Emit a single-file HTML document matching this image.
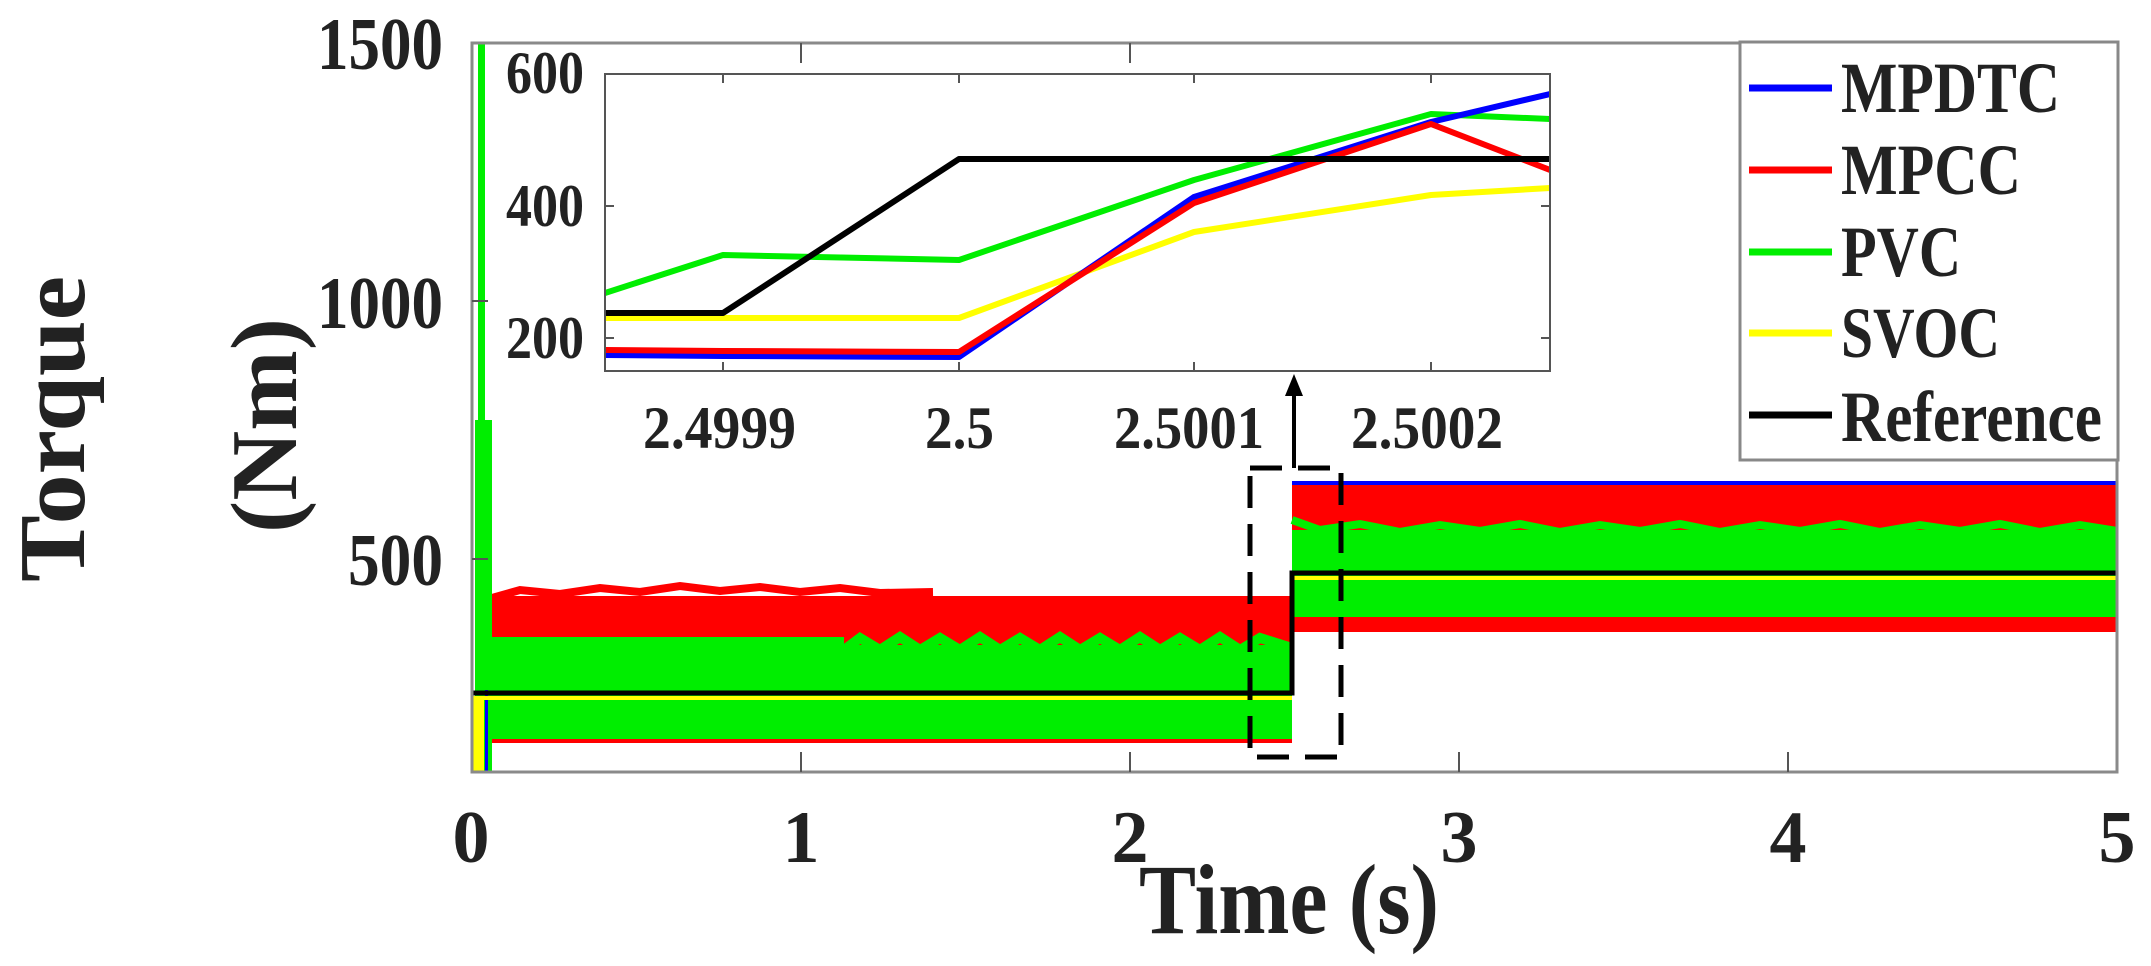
<!DOCTYPE html>
<html><head><meta charset="utf-8"><style>
html,body{margin:0;padding:0;background:#fff;}
svg{display:block;}
text{font-family:"Liberation Serif",serif;font-weight:bold;fill:#222;}
</style></head><body>
<svg width="2151" height="966" viewBox="0 0 2151 966" xmlns="http://www.w3.org/2000/svg">
<rect width="2151" height="966" fill="#fff"/>
<!-- main plot data -->
<!-- pre-step -->
<rect x="492" y="596" width="800" height="147" fill="#ff0000"/>
<polyline points="492,598 520,590 560,594 600,588 640,592 680,586 720,591 760,587 800,592 840,588 880,593 933,592" fill="none" stroke="#ff0000" stroke-width="8"/>
<rect x="492" y="637" width="352" height="102" fill="#00ee00"/>
<rect x="844" y="645" width="448" height="94" fill="#00ee00"/>
<polyline points="844,650 860,638 880,650 900,637 920,650 940,638 960,650 980,637 1000,650 1020,638 1040,650 1060,637 1080,650 1100,638 1120,650 1140,637 1160,650 1180,638 1200,650 1220,637 1240,650 1260,638 1292,648" fill="none" stroke="#00ee00" stroke-width="10"/>
<!-- start transient -->
<rect x="475" y="420" width="17" height="352" fill="#00ee00"/>
<rect x="478" y="43" width="7" height="380" fill="#00ee00"/>
<rect x="472" y="700" width="12" height="72" fill="#ffff00"/>
<rect x="485" y="690" width="3" height="82" fill="#0000ff"/>
<!-- post-step -->
<rect x="1292" y="481" width="825" height="4" fill="#0000ff"/>
<rect x="1292" y="485" width="825" height="147" fill="#ff0000"/>
<rect x="1292" y="530" width="825" height="87" fill="#00ee00"/>
<polyline points="1292,520 1320,530 1360,524 1400,532 1440,525 1480,531 1520,524 1560,532 1600,525 1640,531 1680,524 1720,532 1760,525 1800,531 1840,524 1880,532 1920,525 1960,531 2000,524 2040,532 2080,525 2117,531" fill="none" stroke="#00ee00" stroke-width="8"/>
<!-- reference & svoc -->
<polyline points="472,698 1292,698" stroke="#ffff00" stroke-width="4" fill="none"/>
<polyline points="1292,578 2117,578" stroke="#ffff00" stroke-width="4" fill="none"/>
<polyline points="472,693 1292,693 1292,573 2117,573" stroke="#000" stroke-width="5" fill="none"/>
<!-- dashed zoom rect -->
<rect x="1250" y="468" width="91" height="289" fill="none" stroke="#000" stroke-width="5" stroke-dasharray="32 16"/>
<line x1="1294" y1="468" x2="1294" y2="392" stroke="#000" stroke-width="4"/>
<polygon points="1294,374 1285,396 1303,396" fill="#000"/>
<!-- main axes -->
<rect x="472" y="43" width="1645" height="729" fill="none" stroke="#8a8a8a" stroke-width="3"/>
<g stroke="#555" stroke-width="2">
<line x1="801" y1="772" x2="801" y2="752"/><line x1="1130" y1="772" x2="1130" y2="752"/><line x1="1459" y1="772" x2="1459" y2="752"/><line x1="1788" y1="772" x2="1788" y2="752"/>
<line x1="801" y1="43" x2="801" y2="63"/><line x1="1130" y1="43" x2="1130" y2="63"/>
<line x1="472" y1="559" x2="488" y2="559"/><line x1="472" y1="301" x2="488" y2="301"/>
</g>
<!-- main tick labels -->
<g font-size="74">
<text x="443" y="69" text-anchor="end" textLength="126" lengthAdjust="spacingAndGlyphs">1500</text>
<text x="443" y="328" text-anchor="end" textLength="126" lengthAdjust="spacingAndGlyphs">1000</text>
<text x="443" y="585" text-anchor="end" textLength="95" lengthAdjust="spacingAndGlyphs">500</text>
</g>
<g font-size="74" text-anchor="middle">
<text x="471" y="862">0</text>
<text x="801" y="862">1</text>
<text x="1130" y="862">2</text>
<text x="1459" y="862">3</text>
<text x="1788" y="862">4</text>
<text x="2117" y="862">5</text>
</g>
<text x="1139" y="933" font-size="100" textLength="300" lengthAdjust="spacingAndGlyphs">Time (s)</text>
<text transform="translate(84,582) rotate(-90)" font-size="94" textLength="306" lengthAdjust="spacingAndGlyphs">Torque</text>
<text transform="translate(296,533) rotate(-90)" font-size="94" textLength="215" lengthAdjust="spacingAndGlyphs">(Nm)</text>
<!-- inset -->
<rect x="605" y="74" width="945" height="297" fill="#fff"/>
<svg x="605" y="74" width="945" height="297" viewBox="605 74 945 297" overflow="hidden">
<g fill="none" stroke-width="6" stroke-linejoin="round">
<polyline stroke="#ffff00" points="605,318 723,318 959,318 1194,232 1431,195 1550,188"/>
<polyline stroke="#00ee00" points="605,293 723,255 959,260 1194,180 1431,114 1550,119"/>
<polyline stroke="#0000ff" points="605,355 723,356 959,357 1194,197 1431,122 1550,94"/>
<polyline stroke="#ff0000" points="605,350 723,351 959,352 1194,203 1431,124 1550,170"/>
<polyline stroke="#000" points="605,313 723,313 959,159 1550,159"/>
</g>
</svg>
<rect x="605" y="74" width="945" height="297" fill="none" stroke="#555" stroke-width="2"/>
<g stroke="#555" stroke-width="2">
<line x1="723" y1="371" x2="723" y2="362"/><line x1="959" y1="371" x2="959" y2="362"/><line x1="1194" y1="371" x2="1194" y2="362"/><line x1="1431" y1="371" x2="1431" y2="362"/>
<line x1="723" y1="74" x2="723" y2="83"/><line x1="959" y1="74" x2="959" y2="83"/><line x1="1194" y1="74" x2="1194" y2="83"/><line x1="1431" y1="74" x2="1431" y2="83"/>
<line x1="605" y1="206" x2="614" y2="206"/><line x1="605" y1="338" x2="614" y2="338"/>
<line x1="1550" y1="206" x2="1541" y2="206"/><line x1="1550" y1="338" x2="1541" y2="338"/>
</g>
<g font-size="60" text-anchor="end">
<text x="584" y="93" textLength="78" lengthAdjust="spacingAndGlyphs">600</text>
<text x="584" y="226" textLength="78" lengthAdjust="spacingAndGlyphs">400</text>
<text x="584" y="358" textLength="78" lengthAdjust="spacingAndGlyphs">200</text>
</g>
<g font-size="60">
<text x="643" y="448" textLength="153" lengthAdjust="spacingAndGlyphs">2.4999</text>
<text x="925" y="448" textLength="69" lengthAdjust="spacingAndGlyphs">2.5</text>
<text x="1114" y="448" textLength="150" lengthAdjust="spacingAndGlyphs">2.5001</text>
<text x="1351" y="448" textLength="152" lengthAdjust="spacingAndGlyphs">2.5002</text>
</g>
<!-- legend -->
<rect x="1740" y="42" width="378" height="418" fill="#fff" stroke="#888" stroke-width="3"/>
<g stroke-width="7">
<line x1="1749" y1="88" x2="1832" y2="88" stroke="#0000ff"/>
<line x1="1749" y1="170" x2="1832" y2="170" stroke="#ff0000"/>
<line x1="1749" y1="252" x2="1832" y2="252" stroke="#00ee00"/>
<line x1="1749" y1="333" x2="1832" y2="333" stroke="#ffff00"/>
<line x1="1749" y1="415" x2="1832" y2="415" stroke="#000"/>
</g>
<g font-size="72" style="fill:#000">
<text x="1841" y="112" textLength="219" lengthAdjust="spacingAndGlyphs">MPDTC</text>
<text x="1841" y="194" textLength="180" lengthAdjust="spacingAndGlyphs">MPCC</text>
<text x="1841" y="276" textLength="120" lengthAdjust="spacingAndGlyphs">PVC</text>
<text x="1841" y="357" textLength="159" lengthAdjust="spacingAndGlyphs">SVOC</text>
<text x="1841" y="441" textLength="261" lengthAdjust="spacingAndGlyphs">Reference</text>
</g>
</svg>
</body></html>
